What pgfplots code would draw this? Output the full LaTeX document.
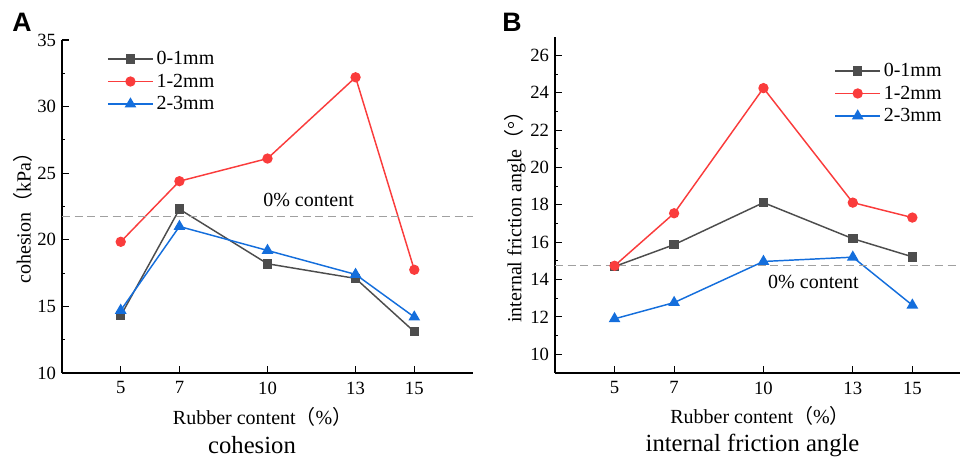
\documentclass[border=0pt]{standalone}
\usepackage{pgfplots}
\pgfplotsset{compat=1.18}
\usepackage{fontspec}
\setmainfont{Liberation Serif}
\newfontfamily\cjk{Noto Sans CJK SC}
\newfontfamily\arialb{Liberation Sans}
\definecolor{cg}{RGB}{77,77,77}
\definecolor{cr}{RGB}{250,60,60}
\definecolor{cb}{RGB}{20,110,220}
\definecolor{dashg}{RGB}{160,160,160}
\pgfplotsset{
  myax/.style={
    scale only axis,
    axis x line*=bottom, axis y line*=left,
    axis line style={black, line width=0.9pt},
    tick align=inside,
    tick style={black, line width=0.8pt},
    major tick length=5pt, minor tick length=2.5pt,
    xtick={5,7,10,13,15},
    xticklabels={5,7,10,13,15},
    tick label style={font=\rmfamily\fontsize{14}{16}\selectfont},
    xticklabel style={yshift=-3pt},
    yticklabel style={xshift=-1pt},
    legend cell align=left,
    legend style={draw=none, fill=none, font=\fontsize{15}{18}\selectfont, row sep=1.5pt, inner sep=0pt},
    legend image code/.code={\draw[mark repeat=2,mark phase=2,##1] plot coordinates {(0pt,0pt) (17pt,0pt) (34pt,0pt)};},
    clip=false,
  },
  s1/.style={cg, line width=1.1pt, mark=square*, mark size=3pt, mark options={solid, fill=cg}},
  s2/.style={cr, line width=1.1pt, mark=*, mark size=3.3pt, mark options={solid, fill=cr}},
  s3/.style={cb, line width=1.1pt, mark=triangle*, mark size=4pt, mark options={solid, fill=cb}},
}
\begin{document}
\begin{tikzpicture}
\path[use as bounding box] (0,0) rectangle (720pt,-344.25pt);
% Panel A
\begin{axis}[myax,
  at={(46.5pt,-279.75pt)}, anchor=origin,
  width=308.25pt, height=249.75pt,
  xmin=3, xmax=17, ymin=10, ymax=35,
  ytick={10,15,20,25,30,35}, yticklabels={10,15,20,25,30,35}, minor y tick num=1,
  legend style={at={(0.109,0.975)}, anchor=north west},
]
\addplot[s1] coordinates {(5,14.3) (7,22.3) (10,18.2) (13,17.1) (15,13.1)};
\addlegendentry{0-1mm}
\addplot[s2] coordinates {(5,19.85) (7,24.4) (10,26.1) (13,32.2) (15,17.75)};
\addlegendentry{1-2mm}
\addplot[s3] coordinates {(5,14.7) (7,21.0) (10,19.2) (13,17.4) (15,14.2)};
\addlegendentry{2-3mm}
\addplot[dashg, line width=0.9pt, dash pattern=on 6pt off 3.5pt, forget plot] coordinates {(3,21.75) (17,21.75)};
\node[font=\fontsize{15}{18}\selectfont] at (axis cs:11.4,23.0) {0\% content};
\end{axis}
% Panel B
\begin{axis}[myax,
  at={(416.25pt,-279.75pt)}, anchor=origin,
  width=303.75pt, height=252.2pt,
  xmin=3, xmax=16.6, ymin=9, ymax=27,
  ytick={10,12,...,26}, yticklabels={10,12,14,16,18,20,22,24,26}, minor y tick num=1,
  legend style={at={(0.689,0.93)}, anchor=north west},
]
\addplot[s1] coordinates {(5,14.7) (7,15.87) (10,18.12) (13,16.19) (15,15.22)};
\addlegendentry{0-1mm}
\addplot[s2] coordinates {(5,14.74) (7,17.55) (10,24.25) (13,18.12) (15,17.32)};
\addlegendentry{1-2mm}
\addplot[s3] coordinates {(5,11.9) (7,12.77) (10,14.97) (13,15.2) (15,12.63)};
\addlegendentry{2-3mm}
\addplot[dashg, line width=0.9pt, dash pattern=on 6pt off 3.5pt, forget plot] coordinates {(3,14.75) (16.6,14.75)};
\node[font=\fontsize{15}{18}\selectfont] at (axis cs:11.68,13.85) {0\% content};
\end{axis}
% labels
\node[font=\fontsize{15}{18}\selectfont, rotate=90] at (17.25pt,-159.75pt) {cohesion{\cjk （}kPa{\cjk ）}};
\node[font=\fontsize{15}{18}\selectfont, rotate=90] at (386.25pt,-159pt) {internal friction angle{\cjk （}°{\cjk ）}};
\node[font=\fontsize{15}{18}\selectfont] at (197pt,-312.75pt) {Rubber content{\cjk （}\%{\cjk ）}};
\node[font=\fontsize{18.5}{22}\selectfont] at (189pt,-333.75pt) {cohesion};
\node[font=\fontsize{15}{18}\selectfont] at (570pt,-312pt) {Rubber content{\cjk （}\%{\cjk ）}};
\node[font=\fontsize{18.5}{22}\selectfont] at (564.4pt,-333.75pt) {internal friction angle};
\node[font=\arialb\bfseries\fontsize{20}{24}\selectfont] at (16.5pt,-16.9pt) {A};
\node[font=\arialb\bfseries\fontsize{20}{24}\selectfont] at (384pt,-16.9pt) {B};
\end{tikzpicture}
\end{document}
